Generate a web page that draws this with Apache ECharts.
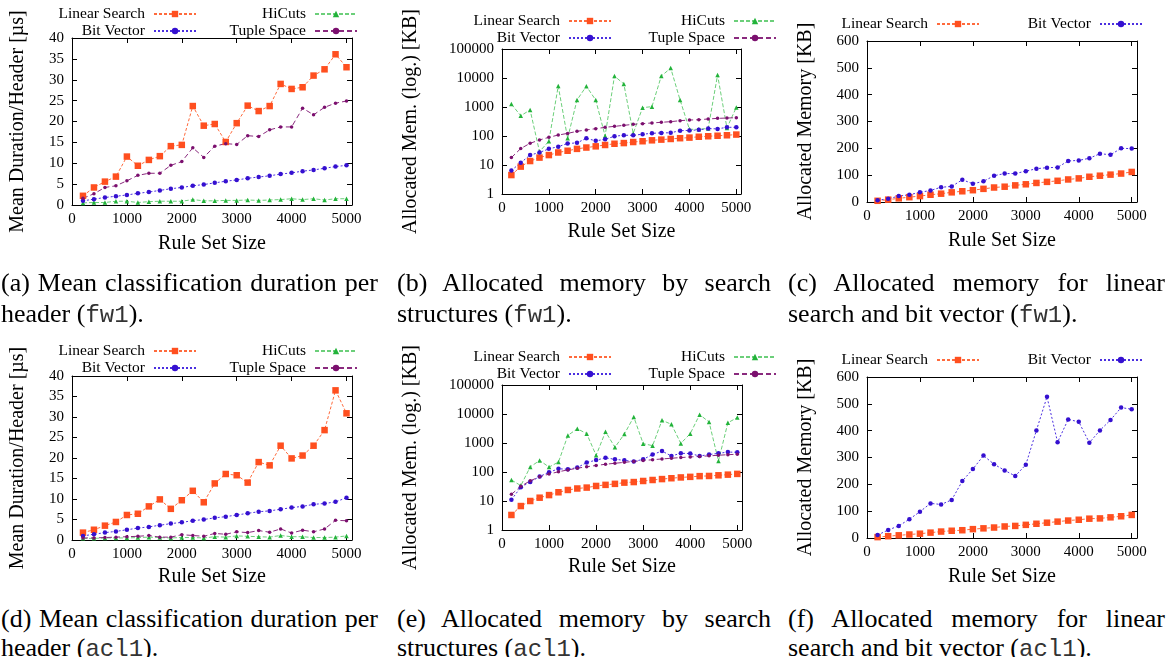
<!DOCTYPE html>
<html>
<head>
<meta charset="utf-8">
<script src="https://cdn.jsdelivr.net/npm/echarts@6/dist/echarts.min.js"></script>
<style>
  body { margin: 0; width: 1171px; height: 657px; background: #fff; position: relative; overflow: hidden; font-family: "Liberation Serif", serif; }
  .chart { position: absolute; height: 262px; }
  .cap { position: absolute; font-size: 26px; line-height: 31px; color: #000; }
  .cap.low { line-height: 29px; }
  .cap .l1 { text-align: justify; text-align-last: justify; white-space: nowrap; }
  .cap code { font-family: "Liberation Mono", monospace; font-size: 24px; color: #333; }
</style>
</head>
<body>
<div id="pa" class="chart" style="left:0;top:0;width:390px"></div>
<div id="pb" class="chart" style="left:390px;top:0;width:390px"></div>
<div id="pc" class="chart" style="left:780px;top:0;width:391px"></div>
<div id="pd" class="chart" style="left:0;top:330px;width:390px"></div>
<div id="pe" class="chart" style="left:390px;top:330px;width:390px"></div>
<div id="pf" class="chart" style="left:780px;top:330px;width:391px"></div>

<div class="cap" style="left:1px;top:267px;width:377px"><div class="l1">(a) Mean classification duration per</div><div>header (<code>fw1</code>).</div></div>
<div class="cap" style="left:397px;top:267px;width:374px"><div class="l1">(b) Allocated memory by search</div><div>structures (<code>fw1</code>).</div></div>
<div class="cap" style="left:788px;top:267px;width:377px"><div class="l1">(c) Allocated memory for linear</div><div>search and bit vector (<code>fw1</code>).</div></div>
<div class="cap low" style="left:1px;top:604px;width:377px"><div class="l1">(d) Mean classification duration per</div><div>header (<code>acl1</code>).</div></div>
<div class="cap low" style="left:397px;top:604px;width:374px"><div class="l1">(e) Allocated memory by search</div><div>structures (<code>acl1</code>).</div></div>
<div class="cap low" style="left:788px;top:604px;width:377px"><div class="l1">(f) Allocated memory for linear</div><div>search and bit vector (<code>acl1</code>).</div></div>

<script>
// rule set sizes
const xValues = [200, 400, 600, 800, 1000, 1200, 1400, 1600, 1800, 2000, 2200, 2400, 2600,
  2800, 3000, 3200, 3400, 3600, 3800, 4000, 4200, 4400, 4600, 4800, 5000]

// fw1: mean duration per header [us]
const fw1DurLinear = [2.2, 4.2, 5.6, 6.8, 11.6, 9.4, 10.8, 11.7, 14.1, 14.4, 23.7, 19.0, 19.4, 15.1, 19.6, 23.8, 22.5, 23.7, 29.0, 27.8, 28.2, 31.0, 32.5, 36.1, 33.0]
const fw1DurBitVector = [1.0, 1.4, 1.8, 2.1, 2.4, 2.8, 3.1, 3.5, 3.9, 4.2, 4.6, 4.9, 5.3, 5.7, 6.0, 6.4, 6.7, 7.0, 7.4, 7.7, 8.1, 8.4, 8.8, 9.2, 9.5]
const fw1DurHiCuts = [0.5, 0.6, 0.6, 0.9, 0.9, 0.6, 0.8, 0.9, 0.9, 0.9, 1.3, 1.0, 1.0, 1.1, 1.1, 1.2, 1.1, 1.2, 1.3, 1.5, 1.3, 1.5, 1.2, 1.5, 1.5]
const fw1DurTuple = [1.6, 2.7, 4.2, 4.6, 5.8, 7.1, 7.6, 7.6, 9.5, 10.4, 13.7, 11.4, 14.1, 14.7, 14.5, 16.6, 16.4, 18.0, 18.7, 18.7, 23.2, 21.6, 23.4, 24.4, 24.9]

// fw1: allocated memory [KB]
const fw1MemLinear = [4.5, 8.8, 13.7, 18, 22, 27, 31, 36, 40, 44, 49, 54, 57, 62, 66, 71, 75, 79, 84, 88, 94, 98, 102, 106, 112]
const fw1MemBitVector = [6.5, 12, 22, 27, 36, 43, 55, 58, 83, 68, 77, 98, 106, 106, 115, 124, 128, 129, 153, 155, 163, 180, 176, 200, 199]
const fw1MemHiCuts = [1260, 500, 790, 29, 66, 5300, 83, 1740, 5200, 1740, 100, 11700, 6200, 123, 950, 1030, 11700, 22000, 1740, 170, 170, 183, 12700, 190, 970]
const fw1MemTuple = [18, 37, 56, 73, 90, 108, 123, 145, 162, 179, 199, 215, 233, 252, 267, 282, 297, 312, 338, 355, 364, 386, 406, 416, 428]

// acl1: mean duration per header [us]
const acl1DurLinear = [1.8, 2.5, 3.5, 4.4, 6.1, 6.4, 8.2, 9.9, 7.6, 9.7, 12.0, 9.2, 13.8, 16.1, 15.8, 14.0, 19.0, 18.2, 23.0, 19.9, 20.6, 23.0, 26.8, 36.5, 30.9]
const acl1DurBitVector = [1.0, 1.4, 1.8, 2.1, 2.5, 2.9, 3.2, 3.6, 4.0, 4.3, 4.7, 5.0, 5.4, 5.7, 6.1, 6.5, 6.9, 7.1, 7.5, 7.9, 8.2, 8.7, 8.9, 9.3, 10.3]
const acl1DurHiCuts = [0.4, 0.4, 0.5, 0.5, 0.5, 0.6, 0.7, 0.6, 0.5, 0.6, 0.6, 0.5, 0.8, 0.7, 1.0, 0.9, 0.8, 0.7, 1.1, 0.8, 0.8, 0.6, 0.6, 0.7, 1.0]
const acl1DurTuple = [0.5, 0.5, 0.6, 0.7, 0.8, 0.9, 1.1, 0.7, 0.7, 1.3, 1.1, 0.9, 1.6, 1.4, 2.0, 1.8, 2.3, 1.9, 2.7, 1.7, 2.4, 2.0, 2.7, 4.8, 4.7]

// acl1: allocated memory [KB]
const acl1MemLinear = [3.3, 6.7, 10, 13, 16, 20, 24, 27, 29, 33, 36, 39, 43, 45, 49, 53, 57, 61, 65, 68, 72, 73, 77, 81, 86]
const acl1MemBitVector = [11, 30, 45, 70, 98, 129, 125, 142, 212, 257, 307, 275, 252, 231, 273, 401, 526, 357, 442, 433, 355, 401, 440, 486, 480]
const acl1MemHiCuts = [53, 34, 150, 250, 148, 220, 1830, 3100, 2100, 375, 2450, 710, 2040, 7900, 950, 810, 6100, 4400, 970, 2100, 9500, 5300, 240, 5000, 7500]
const acl1MemTuple = [17, 32, 50, 68, 85, 102, 118, 135, 152, 168, 185, 200, 215, 232, 248, 265, 282, 298, 315, 330, 345, 360, 378, 395, 410]

const FONT = 'Liberation Serif'

// series look, same in every panel
const STYLE = {
  'Linear Search': { color: '#ff4f1f', line: '#ff6a3c', symbol: 'rect', size: 6.5, dash: [3, 2] },
  'Bit Vector': { color: '#3510d0', line: '#4a2ee0', symbol: 'circle', size: 4.5, dash: [2, 2] },
  'HiCuts': { color: '#22b33a', line: '#6ccf7a', symbol: 'triangle', size: 4.5, dash: [4, 2] },
  'Tuple Space': { color: '#7b0f6e', line: '#8a2a7e', symbol: 'circle', size: 3.5, dash: [5, 3] }
}

function makeSeries(name, values) {
  const s = STYLE[name]
  return {
    name: name,
    type: 'line',
    data: xValues.map((x, i) => [x, values[i]]),
    symbol: s.symbol,
    symbolSize: s.size,
    itemStyle: { color: s.color },
    lineStyle: { color: s.line, width: 1, type: s.dash },
    emphasis: { disabled: true },
    animation: false
  }
}

function makeAxis(base, pos, labels) {
  return Object.assign({}, base, {
    position: pos,
    axisLine: { show: true, onZero: false, lineStyle: { color: '#000', width: 1 } },
    axisTick: { show: true, inside: true, length: 5, lineStyle: { color: '#000' } },
    axisLabel: labels ? base.axisLabel : { show: false },
    splitLine: { show: false },
    name: labels ? base.name : ''
  })
}

function makeLegend(names, right, top) {
  return {
    orient: 'vertical',
    align: 'right',
    right: right,
    top: top,
    padding: 0,
    itemWidth: 42,
    itemHeight: 8,
    itemGap: 1,
    selectedMode: false,
    data: names,
    textStyle: { fontFamily: FONT, fontSize: 15.5, color: '#000', padding: [0, 4, 0, 0] }
  }
}

function drawPanel(id, cfg) {
  const chart = echarts.init(document.getElementById(id))
  const xBase = {
    type: 'value', min: 0, max: 5100, interval: 1000,
    axisLabel: {
      fontFamily: FONT, fontSize: 15, color: '#000', margin: 7,
      formatter: (v) => (v % 1000 === 0 ? String(v) : '')
    },
    name: 'Rule Set Size', nameLocation: 'middle', nameGap: cfg.xNameGap,
    nameTextStyle: { fontFamily: FONT, fontSize: 20, color: '#000' }
  }
  const yBase = {
    type: cfg.yType, min: cfg.yMin, max: cfg.yMax,
    axisLabel: {
      fontFamily: FONT, fontSize: 15, color: '#000', margin: 8,
      formatter: (v) => String(Math.round(v))
    },
    name: cfg.yName, nameLocation: 'middle', nameGap: cfg.yNameGap,
    nameTextStyle: { fontFamily: FONT, fontSize: 20, color: '#000' }
  }
  if (cfg.yType === 'log') yBase.logBase = 10
  else yBase.interval = cfg.yInterval

  chart.setOption({
    animation: false,
    grid: Object.assign({ show: false, containLabel: false }, cfg.grid),
    legend: cfg.legends,
    xAxis: [makeAxis(xBase, 'bottom', true), makeAxis(xBase, 'top', false)],
    yAxis: [makeAxis(yBase, 'left', true), makeAxis(yBase, 'right', false)],
    series: cfg.series
  })
}

drawPanel('pa', {
  grid: { left: 72, top: 38, width: 280, height: 167 },
  yType: 'value', yMin: 0, yMax: 40, yInterval: 5,
  yName: 'Mean Duration/Header [µs]', yNameGap: 44, xNameGap: 29,
  legends: [
    makeLegend(['Linear Search', 'Bit Vector'], 193, 6),
    makeLegend(['HiCuts', 'Tuple Space'], 32, 6)
  ],
  series: [
    makeSeries('Linear Search', fw1DurLinear),
    makeSeries('HiCuts', fw1DurHiCuts),
    makeSeries('Bit Vector', fw1DurBitVector),
    makeSeries('Tuple Space', fw1DurTuple)
  ]
})

drawPanel('pb', {
  grid: { left: 112, top: 49, width: 239, height: 145 },
  yType: 'log', yMin: 1, yMax: 100000,
  yName: 'Allocated Mem. (log.) [KB]', yNameGap: 81, xNameGap: 28,
  legends: [
    makeLegend(['Linear Search', 'Bit Vector'], 168, 13),
    makeLegend(['HiCuts', 'Tuple Space'], 3, 13)
  ],
  series: [
    makeSeries('Linear Search', fw1MemLinear),
    makeSeries('HiCuts', fw1MemHiCuts),
    makeSeries('Bit Vector', fw1MemBitVector),
    makeSeries('Tuple Space', fw1MemTuple)
  ]
})

drawPanel('pc', {
  grid: { left: 87, top: 41, width: 270, height: 161 },
  yType: 'value', yMin: 0, yMax: 600, yInterval: 100,
  yName: 'Allocated Memory [KB]', yNameGap: 51, xNameGap: 29,
  legends: [
    makeLegend(['Linear Search'], 191, 16),
    makeLegend(['Bit Vector'], 28, 16)
  ],
  series: [
    makeSeries('Linear Search', fw1MemLinear),
    makeSeries('Bit Vector', fw1MemBitVector)
  ]
})

drawPanel('pd', {
  grid: { left: 72, top: 46, width: 280, height: 165 },
  yType: 'value', yMin: 0, yMax: 40, yInterval: 5,
  yName: 'Mean Duration/Header [µs]', yNameGap: 44, xNameGap: 27,
  legends: [
    makeLegend(['Linear Search', 'Bit Vector'], 193, 13),
    makeLegend(['HiCuts', 'Tuple Space'], 32, 13)
  ],
  series: [
    makeSeries('Linear Search', acl1DurLinear),
    makeSeries('HiCuts', acl1DurHiCuts),
    makeSeries('Bit Vector', acl1DurBitVector),
    makeSeries('Tuple Space', acl1DurTuple)
  ]
})

drawPanel('pe', {
  grid: { left: 112, top: 55, width: 240, height: 145 },
  yType: 'log', yMin: 1, yMax: 100000,
  yName: 'Allocated Mem. (log.) [KB]', yNameGap: 81, xNameGap: 27,
  legends: [
    makeLegend(['Linear Search', 'Bit Vector'], 168, 19),
    makeLegend(['HiCuts', 'Tuple Space'], 3, 19)
  ],
  series: [
    makeSeries('Linear Search', acl1MemLinear),
    makeSeries('HiCuts', acl1MemHiCuts),
    makeSeries('Bit Vector', acl1MemBitVector),
    makeSeries('Tuple Space', acl1MemTuple)
  ]
})

drawPanel('pf', {
  grid: { left: 87, top: 47, width: 270, height: 161 },
  yType: 'value', yMin: 0, yMax: 600, yInterval: 100,
  yName: 'Allocated Memory [KB]', yNameGap: 51, xNameGap: 29,
  legends: [
    makeLegend(['Linear Search'], 191, 22),
    makeLegend(['Bit Vector'], 28, 22)
  ],
  series: [
    makeSeries('Linear Search', acl1MemLinear),
    makeSeries('Bit Vector', acl1MemBitVector)
  ]
})
</script>
</body>
</html>
